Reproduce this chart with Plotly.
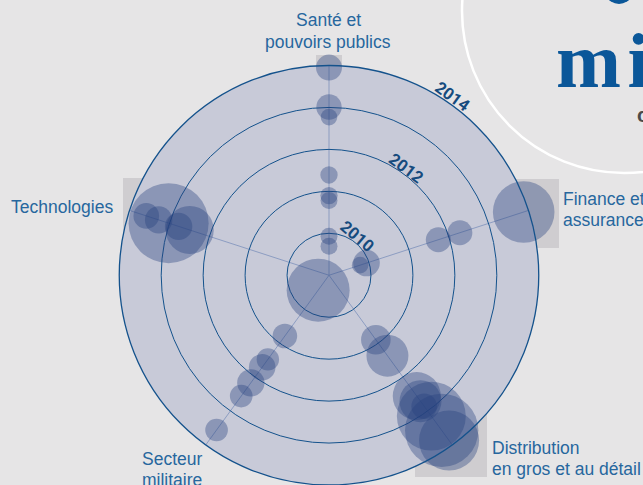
import plotly.graph_objects as go

W, H = 643, 485

# ---- data -------------------------------------------------------------
sectors = ["Santé et pouvoirs publics", "Finance et assurance",
           "Distribution en gros et au détail", "Secteur militaire", "Technologies"]

sante_dates = [2013.95, 2013.01, 2012.77, 2011.39, 2010.90, 2010.78, 2009.93, 2009.69]
sante_amounts = [1.08, 1.03, 0.44, 0.48, 0.48, 0.46, 0.46, 0.46]

finance_dates = [2009.78, 2009.94, 2011.74, 2012.28, 2013.88]
finance_amounts = [0.44, 1.13, 1.0, 1.0, 6.07]

distrib_dates = [2010.90, 2011.37, 2012.56, 2012.71, 2012.86, 2013.15, 2013.57, 2013.87]
distrib_amounts = [1.40, 2.82, 3.69, 2.82, 1.05, 7.6, 8.6, 5.76]

militaire_dates = [2009.44, 2010.79, 2011.48, 2011.71, 2012.17, 2012.56, 2013.56]
militaire_amounts = [6.35, 0.97, 0.80, 1.13, 1.20, 0.82, 0.82]

tech_dates = [2013.02, 2012.49, 2012.77, 2013.27, 2013.58]
tech_amounts = [10.24, 3.69, 1.20, 1.20, 1.05]

year_ticks = [2010, 2011, 2012, 2013]
year_labels = ["2010", "2012", "2014"]

# ---- build ------------------------------------------------------------
groups = [(sectors[0], sante_dates, sante_amounts),
          (sectors[1], finance_dates, finance_amounts),
          (sectors[2], distrib_dates, distrib_amounts),
          (sectors[3], militaire_dates, militaire_amounts),
          (sectors[4], tech_dates, tech_amounts)]

r_all, th_all, s_all = [], [], []
for name, d, a in groups:
    r_all += d
    th_all += [name] * len(d)
    s_all += a

def px(x):
    return x / W

def py(y):
    return 1 - y / H

fig = go.Figure()
fig.add_trace(go.Scatterpolar(
    r=r_all, theta=th_all, mode="markers", cliponaxis=False,
    hoverinfo="skip",
    marker=dict(size=s_all, sizemode="area", sizeref=0.0032,
                color="rgb(40,65,125)", opacity=0.38, line=dict(width=0)),
))

BLUE_TXT = "#27679e"
label_font = dict(family="Liberation Sans, Arial, sans-serif", size=17.5, color=BLUE_TXT)

annotations = []
def lab(text, x, y, xanchor):
    annotations.append(dict(text=text, x=px(x), y=py(y), xref="paper", yref="paper",
                            xanchor=xanchor, yanchor="middle", showarrow=False,
                            font=label_font))

lab("Santé et", 328, 20.5, "center")
lab("pouvoirs publics", 328, 42, "center")
lab("Technologies", 115, 206.5, "right")
lab("Finance et", 561, 198.5, "left")
lab("assurance", 561, 220, "left")
lab("Distribution", 490, 447.5, "left")
lab("en gros et au détail", 490, 469, "left")
lab("Secteur", 140, 458.5, "left")
lab("militaire", 140, 480, "left")

year_pos = [(357, 236.5, 40), (406, 168.5, 37), (452, 97, 36)]
for t, (x, y, ang) in zip(year_labels, year_pos):
    annotations.append(dict(text="<b>" + t + "</b>", x=px(x), y=py(y), xref="paper", yref="paper",
                            xanchor="center", yanchor="middle", showarrow=False, textangle=ang,
                            font=dict(family="Liberation Sans Narrow, Roboto, sans-serif",
                                      size=16.5, color="#164b7e")))

# decorative headline fragments (cut by the page edge)
head_font = dict(family="Liberation Serif, serif", size=78, color="#0b5799")
annotations.append(dict(text="<b>m\u200ai</b>", x=px(554), y=py(60), xref="paper", yref="paper",
                        xanchor="left", yanchor="middle", showarrow=False, font=head_font))
annotations.append(dict(text="<b>c</b>", x=px(635), y=py(115), xref="paper", yref="paper",
                        xanchor="left", yanchor="middle", showarrow=False,
                        font=dict(family="Liberation Sans, sans-serif", size=20, color="#4a4a4a")))

GRAY_BOX = "#cfcdd0"
shapes = []
for (x0, y0, x1, y1) in [(316, 55, 342, 90), (123, 178, 213, 268),
                         (490, 179, 559, 248), (415, 395, 487, 477)]:
    shapes.append(dict(type="rect", xref="paper", yref="paper", layer="below",
                       x0=px(x0), x1=px(x1), y0=py(y1), y1=py(y0),
                       fillcolor=GRAY_BOX, line=dict(width=0)))
cx, cy, R = 624, 11, 162
shapes.append(dict(type="circle", xref="paper", yref="paper", layer="below",
                   x0=px(cx - R), x1=px(cx + R), y0=py(cy + R), y1=py(cy - R),
                   line=dict(color="white", width=2.5), fillcolor="rgba(0,0,0,0)"))
shapes.append(dict(type="circle", xref="paper", yref="paper", layer="above",
                   x0=px(598), x1=px(640), y0=py(4), y1=py(-60),
                   line=dict(width=0), fillcolor="#0b5799"))

fig.update_layout(
    width=W, height=H, margin=dict(l=0, r=0, t=0, b=0),
    paper_bgcolor="#e6e5e6", plot_bgcolor="#e6e5e6", showlegend=False,
    polar=dict(
        domain=dict(x=[px(118), px(540)], y=[0, py(65.5)]),
        bgcolor="#c8cad8",
        radialaxis=dict(range=[2009, 2014], tickvals=year_ticks, showticklabels=False,
                        ticks="", showline=False, gridcolor="#14528c", gridwidth=1.3),
        angularaxis=dict(type="category", categoryorder="array", categoryarray=sectors,
                         rotation=90, direction="clockwise", showticklabels=False, ticks="",
                         gridcolor="rgba(125,145,188,0.8)", gridwidth=1.3,
                         showline=True, linecolor="#14528c", linewidth=1.3),
    ),
    annotations=annotations, shapes=shapes,
)

fig.write_html("out.html", config={"displayModeBar": False},
               post_script="document.body.style.margin='0';document.body.style.overflow='hidden';")
